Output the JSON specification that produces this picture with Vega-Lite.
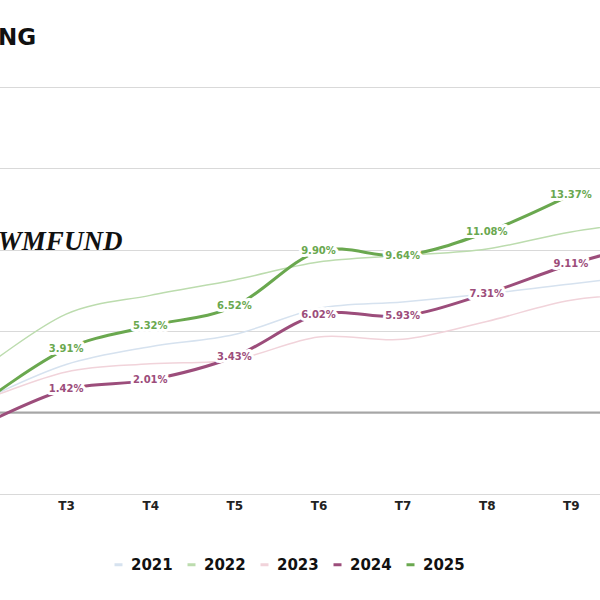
{
  "$schema": "https://vega.github.io/schema/vega-lite/v6.json",
  "width": 600,
  "height": 407,
  "autosize": {"type": "none"},
  "padding": {"left": 0, "top": 87, "right": 0, "bottom": 106},
  "background": "white",
  "title": {"text": "NG", "anchor": "start", "frame": "group", "font": "DejaVu Sans", "fontSize": 23, "fontWeight": "bold", "color": "#111111", "offset": 19, "baseline": "alphabetic", "dx": -2},
  "config": {"view": {"stroke": null}, "font": "DejaVu Sans"},
  "data": {"values": [
    {"nam": "2021", "thang": "T2", "v": 0.0073},
    {"nam": "2021", "thang": "T3", "v": 0.0295},
    {"nam": "2021", "thang": "T4", "v": 0.0405},
    {"nam": "2021", "thang": "T5", "v": 0.048},
    {"nam": "2021", "thang": "T6", "v": 0.064},
    {"nam": "2021", "thang": "T7", "v": 0.068},
    {"nam": "2021", "thang": "T8", "v": 0.073},
    {"nam": "2021", "thang": "T9", "v": 0.079},
    {"nam": "2021", "thang": "T10", "v": 0.085},
    {"nam": "2022", "thang": "T2", "v": 0.0264},
    {"nam": "2022", "thang": "T3", "v": 0.0605},
    {"nam": "2022", "thang": "T4", "v": 0.072},
    {"nam": "2022", "thang": "T5", "v": 0.0815},
    {"nam": "2022", "thang": "T6", "v": 0.0925},
    {"nam": "2022", "thang": "T7", "v": 0.0965},
    {"nam": "2022", "thang": "T8", "v": 0.1005},
    {"nam": "2022", "thang": "T9", "v": 0.111},
    {"nam": "2022", "thang": "T10", "v": 0.118},
    {"nam": "2023", "thang": "T2", "v": 0.0072},
    {"nam": "2023", "thang": "T3", "v": 0.025},
    {"nam": "2023", "thang": "T4", "v": 0.030},
    {"nam": "2023", "thang": "T5", "v": 0.0325},
    {"nam": "2023", "thang": "T6", "v": 0.0465},
    {"nam": "2023", "thang": "T7", "v": 0.045},
    {"nam": "2023", "thang": "T8", "v": 0.056},
    {"nam": "2023", "thang": "T9", "v": 0.069},
    {"nam": "2023", "thang": "T10", "v": 0.073},
    {"nam": "2024", "thang": "T2", "v": -0.0077},
    {"nam": "2024", "thang": "T3", "v": 0.0142},
    {"nam": "2024", "thang": "T4", "v": 0.0201},
    {"nam": "2024", "thang": "T5", "v": 0.0343},
    {"nam": "2024", "thang": "T6", "v": 0.0602},
    {"nam": "2024", "thang": "T7", "v": 0.0593},
    {"nam": "2024", "thang": "T8", "v": 0.0731},
    {"nam": "2024", "thang": "T9", "v": 0.0911},
    {"nam": "2024", "thang": "T10", "v": 0.105},
    {"nam": "2025", "thang": "T2", "v": 0.0058},
    {"nam": "2025", "thang": "T3", "v": 0.0391},
    {"nam": "2025", "thang": "T4", "v": 0.0532},
    {"nam": "2025", "thang": "T5", "v": 0.0652},
    {"nam": "2025", "thang": "T6", "v": 0.099},
    {"nam": "2025", "thang": "T7", "v": 0.0964},
    {"nam": "2025", "thang": "T8", "v": 0.1108},
    {"nam": "2025", "thang": "T9", "v": 0.1337}
  ]},
  "encoding": {
    "x": {"field": "thang", "type": "ordinal",
      "scale": {"type": "point", "domain": ["T2","T3","T4","T5","T6","T7","T8","T9","T10"], "range": [-18, 655], "padding": 0},
      "axis": {"title": null, "ticks": false, "domain": false, "grid": false, "labelAngle": 0, "labelFont": "DejaVu Sans", "labelFontSize": 12, "labelFontWeight": "bold", "labelColor": "#222222", "labelPadding": 6, "values": ["T3","T4","T5","T6","T7","T8","T9"]}},
    "y": {"field": "v", "type": "quantitative",
      "scale": {"domain": [-0.05, 0.2], "nice": false, "zero": false},
      "axis": {"title": null, "labels": false, "ticks": false, "domain": false, "values": [-0.05, 0, 0.05, 0.1, 0.15, 0.2], "gridColor": "#d9d9d9", "gridWidth": 1}}
  },
  "layer": [
    {
      "transform": [{"filter": "datum.nam == '2021' && datum.thang == 'T3'"}],
      "mark": {"type": "text", "text": "WMFUND", "font": "Liberation Serif", "fontStyle": "italic", "fontWeight": "bold", "fontSize": 27, "align": "center", "baseline": "middle", "dx": -6, "color": "#111111"},
      "encoding": {"x": {"datum": "T3"}, "y": {"datum": 0.105}}
    },
    {
      "transform": [{"filter": "datum.nam == '2021' && datum.thang == 'T3'"}],
      "mark": {"type": "rule", "color": "#a6a6a6", "strokeWidth": 2},
      "encoding": {"y": {"datum": 0}, "x": null}
    },
    {
      "transform": [{"filter": "datum.nam == '2021' || datum.nam == '2022' || datum.nam == '2023'"}],
      "mark": {"type": "line", "interpolate": "cardinal", "clip": true, "strokeWidth": 1.5, "strokeCap": "round"},
      "encoding": {
        "color": {"field": "nam", "type": "nominal",
          "scale": {"domain": ["2021","2022","2023","2024","2025"], "range": ["#d6e2ef","#bcdcae","#f1d3da","#9c4d7b","#6aa84f"]},
          "legend": {"orient": "none", "legendX": 111, "legendY": 470, "direction": "horizontal", "columns": 5, "title": null, "symbolType": "stroke", "symbolSize": 64, "symbolStrokeWidth": 3, "labelFont": "DejaVu Sans", "labelFontSize": 15, "labelFontWeight": "bold", "labelColor": "#111111", "labelOffset": 5, "columnPadding": 8}}
      }
    },
    {
      "transform": [{"filter": "datum.nam == '2024' || datum.nam == '2025'"}],
      "mark": {"type": "line", "interpolate": "cardinal", "clip": true, "strokeWidth": 3, "strokeCap": "round"},
      "encoding": {"color": {"field": "nam", "type": "nominal"}}
    },
    {
      "transform": [{"filter": "(datum.nam == '2024' || datum.nam == '2025') && datum.thang != 'T2' && datum.thang != 'T10'"}],
      "mark": {"type": "text", "fontSize": 10, "fontWeight": "bold", "font": "DejaVu Sans", "fill": "white", "stroke": "white", "strokeWidth": 6, "strokeJoin": "round", "align": "center", "baseline": "middle"},
      "encoding": {"text": {"field": "v", "format": ".2%"}}
    },
    {
      "transform": [{"filter": "(datum.nam == '2024' || datum.nam == '2025') && datum.thang != 'T2' && datum.thang != 'T10'"}],
      "mark": {"type": "text", "fontSize": 10, "fontWeight": "bold", "font": "DejaVu Sans", "align": "center", "baseline": "middle"},
      "encoding": {"text": {"field": "v", "format": ".2%"}, "color": {"field": "nam", "type": "nominal"}}
    }
  ]
}
